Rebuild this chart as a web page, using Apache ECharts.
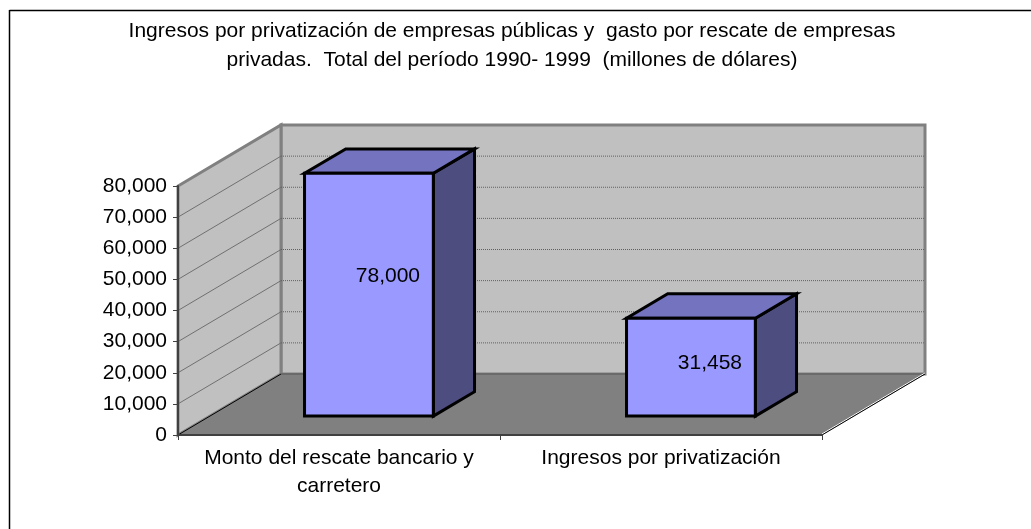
<!DOCTYPE html>
<html>
<head>
<meta charset="utf-8">
<style>
  html, body { margin: 0; padding: 0; background: #fff; }
  #chart { width: 1031px; height: 529px; }
</style>
<script src="https://cdn.jsdelivr.net/npm/echarts@6/dist/echarts.min.js"></script>
</head>
<body>
<div id="chart"></div>
<script>
const titleText = 'Ingresos por privatización de empresas públicas y  gasto por rescate de empresas\nprivadas.  Total del período 1990- 1999  (millones de dólares)';
const categories = ['Monto del rescate bancario y\ncarretero', 'Ingresos por privatización'];
const values = [78000, 31458];
const yMax = 80000;
const yStep = 10000;
const gridValues = [10000, 20000, 30000, 40000, 50000, 60000, 70000];

// oblique projection of the floor depth, in pixels
const depthX = 103;
const depthY = -61;
const barFront = 0.31;
const barBack = 0.71;
const barWidth = 0.4;
const barNudge = -2;

const FONT = '"Liberation Sans", Arial, sans-serif';
const chart = echarts.init(document.getElementById('chart'));

function fmt(v) {
  return v.toLocaleString('en-US');
}

function shift(p, f) {
  return [p[0] + depthX * f, p[1] + depthY * f];
}

function poly(points, fill, stroke, width) {
  return {
    type: 'polygon',
    shape: { points: points },
    style: { fill: fill, stroke: stroke, lineWidth: width, lineJoin: 'miter' }
  };
}

function line(a, b, color, width, dash) {
  return {
    type: 'line',
    shape: { x1: a[0], y1: a[1], x2: b[0], y2: b[1] },
    style: { stroke: color, lineWidth: width, lineDash: dash }
  };
}

// back wall, side wall, floor and their grid lines
function renderWalls(params, api) {
  const cs = params.coordSys;
  const x0 = cs.x;
  const x1 = cs.x + cs.width;
  const bottom = api.coord([0, 0])[1];
  const top = api.coord([0, yMax])[1];
  const fl = [x0, bottom], fr = [x1, bottom], tl = [x0, top];
  const bl = shift(fl, 1), br = shift(fr, 1), btl = shift(tl, 1), btr = shift([x1, top], 1);
  const kids = [
    poly([bl, br, btr, btl], '#C0C0C0', '#808080', 3),
    poly([fl, bl, btl, tl], '#C0C0C0', '#808080', 3),
    poly([fl, fr, br, bl], '#808080', null, 0)
  ];
  gridValues.forEach(function (v) {
    const y = api.coord([0, v])[1];
    kids.push(line([x0, y], shift([x0, y], 1), '#707070', 1));
    kids.push(line(shift([x0, y], 1), shift([x1, y], 1), '#606060', 1, [1, 1]));
  });
  kids.push(line(bl, br, '#555555', 1));
  kids.push(line(fl, bl, '#000000', 1));
  kids.push(line([fr[0], fr[1] - 1], [br[0], br[1] - 1], '#ffffff', 1));
  kids.push(line(fr, br, '#000000', 1));
  return { type: 'group', children: kids };
}

function renderBar(params, api) {
  const idx = api.value(0);
  const val = api.value(1);
  const half = api.size([1, 0])[0] * barWidth / 2;
  const zero = api.coord([idx, 0]);
  const peak = api.coord([idx, val]);
  const a = shift([zero[0] - half + barNudge, zero[1]], barFront);
  const b = shift([zero[0] + half + barNudge, zero[1]], barFront);
  const c = shift([peak[0] + half + barNudge, peak[1]], barFront);
  const d = shift([peak[0] - half + barNudge, peak[1]], barFront);
  const e = [c[0] + (barBack - barFront) * depthX, c[1] + (barBack - barFront) * depthY];
  const f = [d[0] + (barBack - barFront) * depthX, d[1] + (barBack - barFront) * depthY];
  const g = [b[0] + (barBack - barFront) * depthX, b[1] + (barBack - barFront) * depthY];
  const h = a[1] - d[1];
  return {
    type: 'group',
    children: [
      poly([b, g, e, c], '#4D4D80', '#000', 3),
      poly([d, c, e, f], '#7373BF', '#000', 3),
      poly([a, b, c, d], '#9999FF', '#000', 3),
      {
        type: 'text',
        style: {
          x: (a[0] + b[0]) / 2 + 19,
          y: a[1] - h * 0.6 + 6,
          text: fmt(val),
          fill: '#000',
          font: '21px ' + FONT,
          align: 'center',
          verticalAlign: 'middle'
        }
      }
    ]
  };
}

chart.setOption({
  animation: false,
  backgroundColor: '#fff',
  title: {
    text: titleText,
    left: 507,
    top: 12,
    textAlign: 'center',
    textStyle: { color: '#000', fontFamily: FONT, fontSize: 21, fontWeight: 'normal', lineHeight: 29 }
  },
  graphic: [
    { type: 'line', shape: { x1: 9.5, y1: 10.5, x2: 1031, y2: 10.5 }, style: { stroke: '#000', lineWidth: 1.5 } },
    { type: 'line', shape: { x1: 9.5, y1: 10, x2: 9.5, y2: 529 }, style: { stroke: '#000', lineWidth: 1.5 } }
  ],
  grid: { left: 178, top: 186, width: 644, height: 249 },
  xAxis: {
    type: 'category',
    data: categories,
    z: 5,
    axisLine: { lineStyle: { color: '#404040', width: 2 } },
    axisTick: { show: true, length: 5, lineStyle: { color: '#404040' } },
    axisLabel: { color: '#000', fontFamily: FONT, fontSize: 21, lineHeight: 28, margin: 9, interval: 0 }
  },
  yAxis: {
    type: 'value',
    min: 0,
    max: yMax,
    interval: yStep,
    z: 5,
    axisLine: { show: true, lineStyle: { color: '#404040', width: 2 } },
    axisTick: { show: true, length: 5, lineStyle: { color: '#404040' } },
    splitLine: { show: false },
    axisLabel: { color: '#000', fontFamily: FONT, fontSize: 21, margin: 11, formatter: fmt }
  },
  series: [
    {
      type: 'custom',
      z: 1,
      silent: true,
      renderItem: renderWalls,
      data: [[0, 0]]
    },
    {
      type: 'custom',
      z: 2,
      renderItem: renderBar,
      encode: { x: 0, y: 1 },
      data: values.map(function (v, i) { return [i, v]; })
    }
  ]
});
</script>
</body>
</html>
